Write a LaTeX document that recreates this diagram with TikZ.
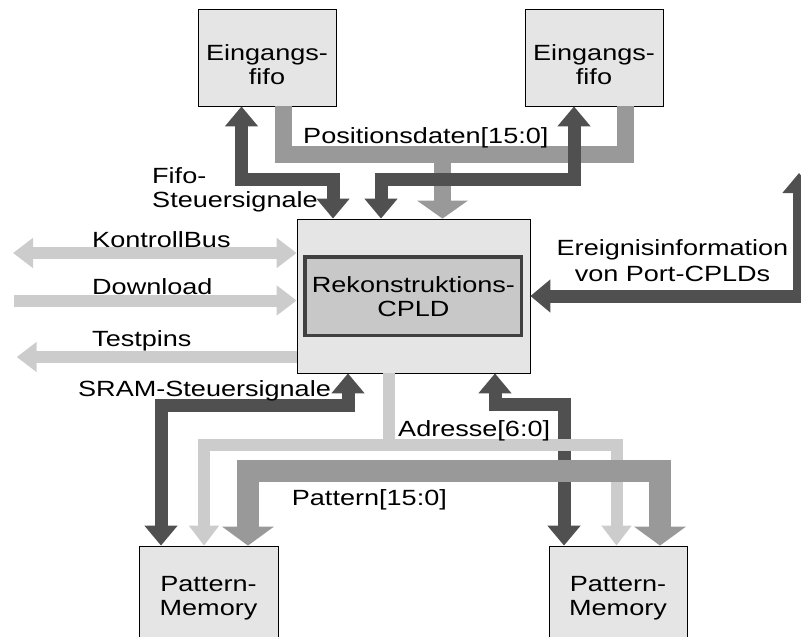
\documentclass[tikz,border=0pt]{standalone}
\usepackage{fontspec}
\setmainfont{Liberation Sans}[FakeStretch=1.23]
\usetikzlibrary{arrows.meta}

\definecolor{busdark}{HTML}{505050}
\definecolor{busmid}{HTML}{999999}
\definecolor{buslight}{HTML}{CCCCCC}
\definecolor{boxfill}{HTML}{E5E5E5}
\definecolor{corefill}{HTML}{C8C8C8}
\definecolor{coreline}{HTML}{404040}

\begin{document}
\begin{tikzpicture}[x=1pt, y=-1pt,
  font=\fontsize{22}{24}\selectfont,
  unit/.style={draw=black, line width=0.8pt, fill=boxfill, inner sep=0pt},
  core/.style={draw=coreline, line width=3.5pt, fill=corefill, inner sep=0pt, align=center},
  unittext/.style={inner sep=0pt, align=center, anchor=north},
  lbl/.style={inner sep=0pt, anchor=base west},
  darkbus/.style={draw=busdark, line width=13pt, line join=miter,
    >={Triangle[width=32pt,length=20pt]}},
  lightbus/.style={draw=buslight, line width=12pt, line join=miter,
    >={Triangle[width=29pt,length=20pt]}},
  posbusline/.style={draw=busmid, line width=17pt, line join=miter,
    >={Triangle[width=50pt,length=18pt]}},
  patbusline/.style={draw=busmid, line width=22pt, line join=miter,
    >={Triangle[width=51pt,length=19pt]}}
]
\clip (0,0) rectangle (801,637);

% units
\node[unit, minimum width=138pt, minimum height=97pt] (fifoL) at (267,57.5) {};
\node[unit, minimum width=138pt, minimum height=97pt] (fifoR) at (594,57.5) {};
\node[unit, minimum width=233pt, minimum height=154pt] (cpld) at (413.5,296) {};
\node[core, minimum width=216.5pt, minimum height=78.5pt] (core) at (413.4,296.2)
  {Rekonstruktions-\\CPLD};
\node[unit, minimum width=139pt, minimum height=104pt] (memL) at (208.5,598) {};
\node[unit, minimum width=138pt, minimum height=104pt] (memR) at (618,598) {};

\node[unittext] (fifoLtxt) at (267,44.7) {Eingangs-\\fifo};
\node[unittext] (fifoRtxt) at (594,44.7) {Eingangs-\\fifo};
\node[unittext] (memLtxt) at (208.5,576) {Pattern-\\Memory};
\node[unittext] (memRtxt) at (618,576) {Pattern-\\Memory};

% free ends
\coordinate (posbus) at (442.5,154.5);
\coordinate (adrbus) at (389,445);
\coordinate (portcplds) at (799,173);
\coordinate (kbus) at (13,253);
\coordinate (dl) at (14,300.5);
\coordinate (tp) at (16.7,357);

% input fifo data bus
\draw[posbusline] ([xshift=16pt]fifoL.south) |- (posbus) -| ([xshift=31.5pt]fifoR.south);
\draw[posbusline, ->] (posbus) -- (posbus |- cpld.north);

% fifo control lines
\draw[darkbus, <->] ([xshift=-80.5pt]cpld.north) -- ++(0,-39) -| ([xshift=-25.5pt]fifoL.south);
\draw[darkbus, <->] ([xshift=-32.5pt]cpld.north) -- ++(0,-39) -| ([xshift=-20pt]fifoR.south);

% event information
\draw[darkbus, <->] (cpld.east) -| (portcplds);

% left side buses
\draw[lightbus, <->] (kbus) -- (kbus -| cpld.west);
\draw[lightbus, ->] (dl) -- (dl -| cpld.west);
\draw[lightbus, <-] (tp) -- (tp -| cpld.west);

% memory control
\draw[darkbus, <->] ([xshift=-47.5pt]memL.north) -- ++(0,-140) -| ([xshift=-65.5pt]cpld.south);
\draw[darkbus, <->] ([xshift=-54pt]memR.north) -- ++(0,-141) -| ([xshift=81.5pt]cpld.south);

% address bus
\draw[lightbus] ([xshift=-24.5pt]cpld.south) -- (adrbus);
\draw[lightbus, <->] ([xshift=-4.5pt]memL.north) |- (adrbus) -| ([xshift=-1.5pt]memR.north);

% pattern bus
\draw[patbusline, <->] ([xshift=39.5pt]memL.north) -- ++(0,-75) -| ([xshift=42pt]memR.north);

% labels
\node[lbl] (lpos) at (303,143) {Positionsdaten[15:0]};
\node[inner sep=0pt, anchor=north west, align=left] (lfifo) at (152,167.3) {Fifo-\\Steuersignale};
\node[lbl] (lkbus) at (92,247.7) {KontrollBus};
\node[lbl] (ldl) at (92,294) {Download};
\node[lbl] (ltp) at (92,346.7) {Testpins};
\node[lbl] (lsram) at (78,396.7) {SRAM-Steuersignale};
\node[lbl] (ladr) at (398,436.7) {Adresse[6:0]};
\node[lbl] (lpat) at (291.7,505) {Pattern[15:0]};
\node[inner sep=0pt, anchor=north, align=center, font=\fontsize{22}{26.7}\selectfont]
  (lev) at (672.5,239) {Ereignisinformation\\von Port-CPLDs};
\end{tikzpicture}
\end{document}
